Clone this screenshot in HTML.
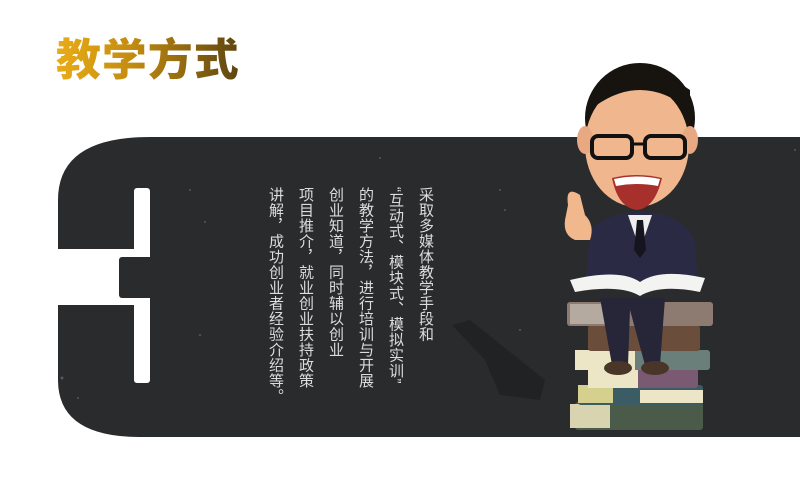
<!DOCTYPE html>
<html><head><meta charset="utf-8"><style>
html,body{margin:0;padding:0;background:#fff;}
#stage{position:relative;width:800px;height:482px;overflow:hidden;background:#fff;}
#title{position:absolute;left:56px;top:28px;font:900 44px/56px "Noto Sans CJK SC","WenQuanYi Zen Hei",sans-serif;letter-spacing:1px;transform:scaleX(1.02);transform-origin:left;background:linear-gradient(90deg,#e9ac17,#c58d10 40%,#5d4510);-webkit-background-clip:text;background-clip:text;color:transparent;}
.col{position:absolute;top:187px;writing-mode:vertical-rl;font:15px/16px "Liberation Sans","Noto Sans CJK SC",sans-serif;color:#dcdcdc;letter-spacing:0.5px;}
</style></head><body>
<div id="stage">
<div id="title">教学方式</div>
<svg width="800" height="482" style="position:absolute;left:0;top:0">
  <path fill="#2a2b2d" d="M800 137 L150 137 Q58 137 58 200 L58 380 Q58 437 140 437 L800 437 Z"/>
  <rect x="134" y="188" width="16" height="70" rx="3" fill="#fff"/>
  <rect x="134" y="298" width="16" height="85" rx="3" fill="#fff"/>
  <rect x="58" y="249" width="92" height="56" fill="#fff"/>
  <rect x="119" y="257" width="40" height="41" rx="3" fill="#2a2b2d"/>
  <g fill="#777" opacity="0.6">
    <circle cx="62" cy="378" r="1.5"/><circle cx="78" cy="398" r="1"/><circle cx="190" cy="190" r="1"/><circle cx="205" cy="222" r="1"/><circle cx="380" cy="158" r="1"/><circle cx="500" cy="190" r="1"/><circle cx="505" cy="210" r="1"/><circle cx="200" cy="335" r="1"/><circle cx="520" cy="330" r="1"/><circle cx="795" cy="150" r="1"/>
  </g>
  <g fill="#1f2022" opacity="0.8">
    <path d="M452 325 L470 320 L520 360 L545 380 L540 400 L500 395 L485 360 Z"/>
  </g>
  <g>
    <rect x="575" y="402" width="128" height="28" fill="#4b5b49" rx="3"/>
    <rect x="570" y="404" width="40" height="24" fill="#d8d4b0"/>
    <rect x="578" y="385" width="125" height="20" fill="#3b5c64" rx="3"/>
    <rect x="578" y="385" width="35" height="18" fill="#d6d08e"/>
    <rect x="640" y="390" width="63" height="13" fill="#ece5c6"/>
    <rect x="588" y="368" width="110" height="20" fill="#7a5a72" rx="3"/>
    <rect x="588" y="368" width="50" height="20" fill="#ece5c6"/>
    <rect x="575" y="350" width="135" height="20" fill="#6a7f7a" rx="3"/>
    <rect x="575" y="350" width="60" height="20" fill="#ece5c6"/>
    <rect x="588" y="325" width="112" height="26" fill="#6a4d3a" rx="3"/>
    <rect x="567" y="302" width="146" height="24" fill="#8d7b72" rx="3"/>
    <rect x="570" y="304" width="50" height="20" fill="#b4aaa0"/>
    <path d="M600 298 L612 365 L628 365 L630 310 L645 365 L660 365 L665 298 Z" fill="#262638"/>
    <ellipse cx="618" cy="368" rx="14" ry="7" fill="#4a3628"/>
    <ellipse cx="655" cy="368" rx="14" ry="7" fill="#4a3628"/>
    <path d="M590 230 Q610 212 640 212 Q680 212 695 240 L698 290 L585 290 Z" fill="#2b2a45"/>
    <path d="M628 215 L640 250 L652 215 Z" fill="#eee"/>
    <path d="M637 220 L643 220 L646 250 L640 258 L634 250 Z" fill="#15151f"/>
    <path d="M568 205 Q565 185 580 195 L585 215 Q595 225 590 240 L575 240 Q563 235 565 220 Z" fill="#f1b88e"/>
    <path d="M570 280 Q620 268 640 282 Q660 268 705 278 L700 292 Q660 284 640 296 Q620 284 575 292 Z" fill="#f3f3f1"/>
    <ellipse cx="640" cy="118" rx="55" ry="55" fill="#17130f"/>
    <ellipse cx="637" cy="145" rx="52" ry="62" fill="#f0b68e"/>
    <ellipse cx="585" cy="140" rx="8" ry="14" fill="#e8a882"/>
    <ellipse cx="690" cy="140" rx="8" ry="14" fill="#e8a882"/>
    <path d="M590 110 Q640 70 690 110 L690 90 Q640 55 590 95 Z" fill="#17130f"/>
    <rect x="592" y="136" width="40" height="22" rx="6" fill="none" stroke="#111" stroke-width="4"/>
    <rect x="645" y="136" width="40" height="22" rx="6" fill="none" stroke="#111" stroke-width="4"/>
    <line x1="632" y1="144" x2="645" y2="144" stroke="#111" stroke-width="3"/>
    <path d="M612 178 Q637 172 662 178 Q655 208 637 210 Q618 208 612 178 Z" fill="#a8302c"/>
    <path d="M614 179 Q637 174 660 179 L658 186 Q637 182 616 186 Z" fill="#fff"/>
  </g>
</svg>
<div class="col" style="left:417px">采取多媒体教学手段和</div>
<div class="col" style="left:387px">“互动式、模块式、模拟实训”</div>
<div class="col" style="left:357px">的教学方法，进行培训与开展</div>
<div class="col" style="left:327px">创业知道，同时辅以创业</div>
<div class="col" style="left:297px">项目推介，就业创业扶持政策</div>
<div class="col" style="left:267px">讲解，成功创业者经验介绍等。</div>
</div>
</body></html>
